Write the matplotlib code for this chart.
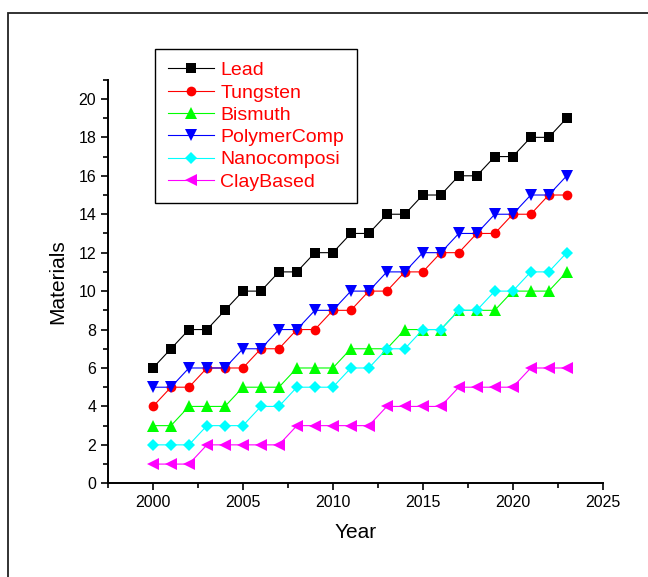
import numpy as np
import matplotlib

matplotlib.use("Agg")
import matplotlib.pyplot as plt
from matplotlib.patches import Rectangle
from matplotlib.ticker import MultipleLocator

plt.rcParams["font.family"] = ["Liberation Sans", "DejaVu Sans"]

# data
years = list(range(2000, 2024))
lead = [6, 7, 8, 8, 9, 10, 10, 11, 11, 12, 12, 13, 13, 14, 14, 15, 15, 16, 16, 17, 17, 18, 18, 19]
tungsten = [4, 5, 5, 6, 6, 6, 7, 7, 8, 8, 9, 9, 10, 10, 11, 11, 12, 12, 13, 13, 14, 14, 15, 15]
bismuth = [3, 3, 4, 4, 4, 5, 5, 5, 6, 6, 6, 7, 7, 7, 8, 8, 8, 9, 9, 9, 10, 10, 10, 11]
polymer = [5, 5, 6, 6, 6, 7, 7, 8, 8, 9, 9, 10, 10, 11, 11, 12, 12, 13, 13, 14, 14, 15, 15, 16]
nano = [2, 2, 2, 3, 3, 3, 4, 4, 5, 5, 5, 6, 6, 7, 7, 8, 8, 9, 9, 10, 10, 11, 11, 12]
clay = [1, 1, 1, 2, 2, 2, 2, 2, 3, 3, 3, 3, 3, 4, 4, 4, 4, 5, 5, 5, 5, 6, 6, 6]

series = [
    ("Lead", lead, "black", "s", 6.5),
    ("Tungsten", tungsten, "red", "o", 7),
    ("Bismuth", bismuth, "#00ff00", "^", 8),
    ("PolymerComp", polymer, "blue", "v", 8),
    ("Nanocomposi", nano, "cyan", "D", 6.5),
    ("ClayBased", clay, "magenta", "<", 8),
]

W, H = 648, 577
fig = plt.figure(figsize=(W / 100, H / 100), dpi=100)

# outer page frame (Origin-style)
fig.patches.append(Rectangle((8 / W, -0.1), 1.2, 1.1 - 13 / H, transform=fig.transFigure,
                             fill=False, edgecolor="#222222", lw=1.3))

ax = fig.add_axes([108 / W, 1 - 483.3 / H, (602.7 - 108) / W, (483.3 - 79.7) / H])

for name, vals, color, marker, ms in series:
    ax.plot(years, vals, color=color, lw=0.8, marker=marker, ms=ms,
            markeredgewidth=0, label=name)

ax.set_xlim(1997.5, 2025)
ax.set_ylim(0, 21)
ax.xaxis.set_major_locator(MultipleLocator(5))
ax.xaxis.set_minor_locator(MultipleLocator(2.5))
ax.yaxis.set_major_locator(MultipleLocator(2))
ax.yaxis.set_minor_locator(MultipleLocator(1))
ax.tick_params(which="both", direction="out", width=1.2, labelsize=11.5)
ax.tick_params(which="major", length=5)
ax.tick_params(which="minor", length=3.5)
for side in ("top", "right"):
    ax.spines[side].set_visible(False)
for side in ("left", "bottom"):
    ax.spines[side].set_linewidth(1.4)

ax.set_xlabel("Year", fontsize=15, labelpad=9)
ax.set_ylabel("Materials", fontsize=15, labelpad=8)

leg = ax.legend(loc="upper left", bbox_to_anchor=(155 / W, 1 - 49 / H),
                bbox_transform=fig.transFigure, fontsize=14, labelcolor="red",
                frameon=True, fancybox=False, edgecolor="black", framealpha=1,
                handlelength=2.4, handletextpad=0.3, labelspacing=0.24,
                borderpad=0.65, borderaxespad=0)
leg.get_frame().set_linewidth(1.0)

fig.savefig("out.png", dpi=100)
